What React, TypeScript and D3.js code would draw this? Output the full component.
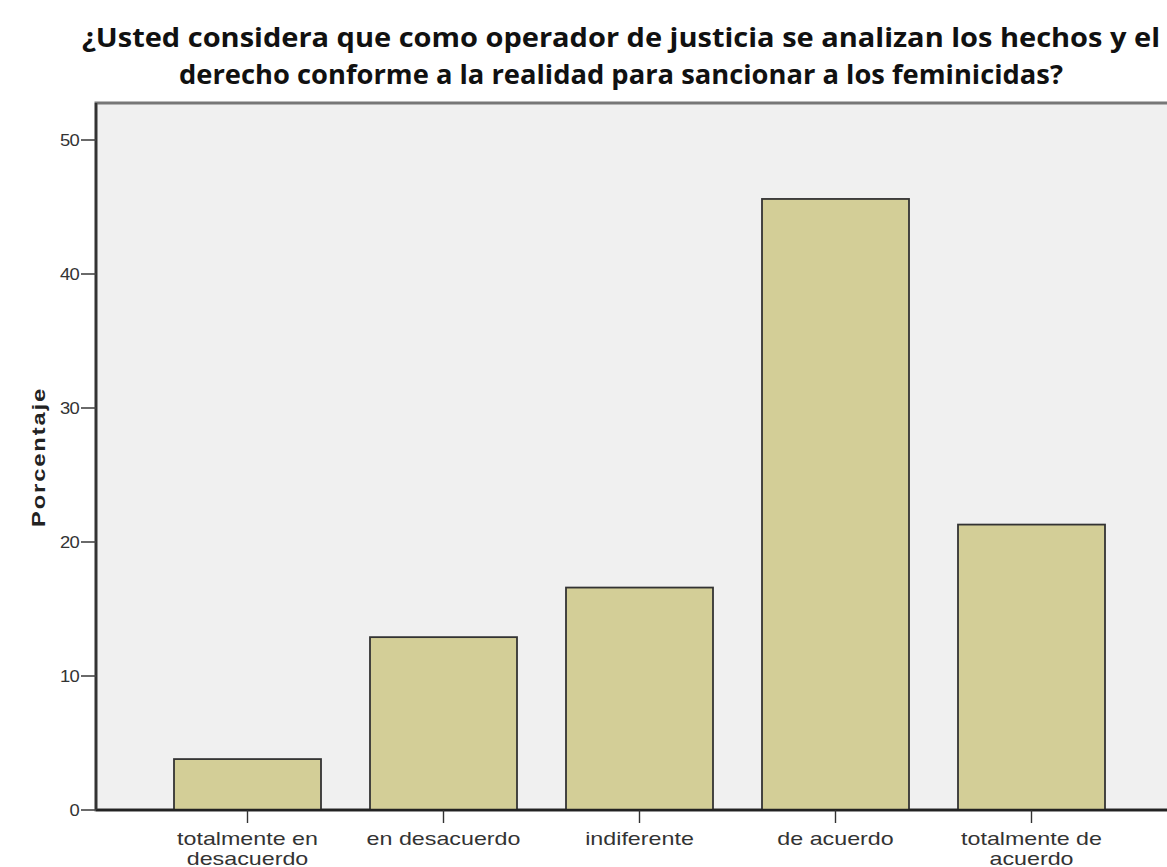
import React from "react";
import * as d3 from "d3";

const categories = ["totalmente en desacuerdo", "en desacuerdo", "indiferente", "de acuerdo", "totalmente de acuerdo"];
const categoryLines = [["totalmente en", "desacuerdo"], ["en desacuerdo"], ["indiferente"], ["de acuerdo"], ["totalmente de", "acuerdo"]];
const values = [3.8, 12.9, 16.6, 45.6, 21.3];
const yTicks = [0, 10, 20, 30, 40, 50];
const titleLines = [
  "¿Usted considera que como operador de justicia se analizan los hechos y el",
  "derecho conforme a la realidad para sancionar a los feminicidas?",
];
const titleWidths = [1078, 884];

const W = 1167, H = 867;
const plotLeft = 96, plotTop = 103, plotRight = 1190, plotBottom = 810;
const labelFont = "'Liberation Sans', Arial, sans-serif";

export default function App() {
  const x = d3.scaleBand<string>().domain(categories).range([149.5, 1129.5]).paddingInner(0.25).paddingOuter(0.125);
  const y = d3.scaleLinear().domain([0, 50]).range([plotBottom, 140]);
  return (
    <svg width={W} height={H} style={{ position: "absolute", left: 0, top: 0, background: "#fff" }}>
      {titleLines.map((t, i) => (
        <text key={i} x={621} y={47 + i * 37} textAnchor="middle" fontFamily="'Open Sans', sans-serif" fontWeight="bold" fontSize={27} fill="#111" textLength={titleWidths[i]} lengthAdjust="spacingAndGlyphs">{t}</text>
      ))}
      <rect x={plotLeft} y={plotTop} width={plotRight - plotLeft} height={plotBottom - plotTop} fill="#f0f0f0" stroke="#777" strokeWidth={3} />
      {categories.map((c, i) => (
        <rect key={c} x={x(c)!} y={y(values[i])} width={x.bandwidth()} height={plotBottom - y(values[i])} fill="#d3ce97" stroke="#333" strokeWidth={1.8} />
      ))}
      <line x1={plotLeft} x2={W} y1={plotBottom} y2={plotBottom} stroke="#222" strokeWidth={2.5} />
      <line x1={plotLeft} x2={plotLeft} y1={plotTop} y2={plotBottom} stroke="#333" strokeWidth={2.5} />
      {yTicks.map((t) => (
        <g key={t}>
          <line x1={81} x2={plotLeft} y1={y(t)} y2={y(t)} stroke="#444" strokeWidth={1.6} />
          <g transform={`translate(79,${y(t) + 6}) scale(1.15,1)`}>
            <text x={0} y={0} textAnchor="end" fontFamily={labelFont} fontSize={16} fill="#333" letterSpacing={-0.6}>{t}</text>
          </g>
        </g>
      ))}
      {categories.map((c, i) => {
        const cx = x(c)! + x.bandwidth() / 2;
        return (
          <g key={c}>
            <line x1={cx} x2={cx} y1={plotBottom} y2={plotBottom + 13} stroke="#333" strokeWidth={1.4} />
            {categoryLines[i].map((l, j) => (
              <g key={j} transform={`translate(${cx},${plotBottom + 35 + j * 20}) scale(1.33,1)`}>
                <text x={0} y={0} textAnchor="middle" fontFamily={labelFont} fontSize={17.5} fill="#333">{l}</text>
              </g>
            ))}
          </g>
        );
      })}
      <g transform={`translate(45,457) rotate(-90) scale(1.25,1)`}>
        <text x={0} y={0} textAnchor="middle" fontFamily={labelFont} fontWeight="bold" fontSize={19} fill="#222" letterSpacing={1.5}>Porcentaje</text>
      </g>
    </svg>
  );
}
